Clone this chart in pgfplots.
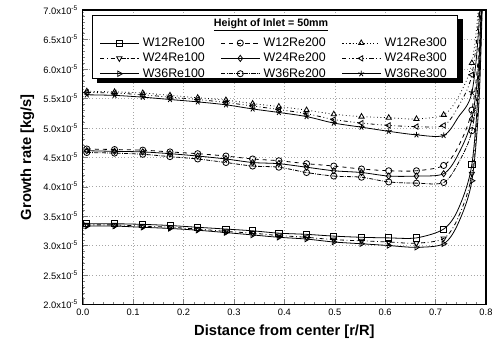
\documentclass[border=0pt]{standalone}
\usepackage{pgfplots}
\pgfplotsset{compat=1.18}
\usepackage{fontspec}
\setmainfont{Liberation Sans}
\usetikzlibrary{plotmarks}
\begin{document}
\begin{tikzpicture}
\begin{axis}[
  name=ax, scale only axis, width=302pt, height=220.5pt,
  xmin=0, xmax=0.8, ymin=2, ymax=7,
  xtick={0,0.1,0.2,0.3,0.4,0.5,0.6,0.7,0.8},
  ytick={2,2.5,3,3.5,4,4.5,5,5.5,6,6.5,7},
  minor x tick num=4, minor y tick num=4,
  xtick pos=left, ytick pos=left,
  tick align=inside,
  major tick length=4pt, minor tick length=2pt,
  axis line style={line width=0.9pt},
  grid=major, major grid style={gray!70, dotted},
  /pgf/number format/assume math mode=true,
  tick label style={font=\fontsize{7}{8}\selectfont},
  xticklabel={\pgfmathprintnumber[fixed,fixed zerofill,precision=1]{\tick}},
  yticklabel={\pgfmathprintnumber[fixed,fixed zerofill,precision=1]{\tick}x10\textsuperscript{-5}},
  xlabel={Distance from center [r/R]},
  ylabel={Growth rate [kg/s]},
  label style={font=\fontsize{11}{13}\selectfont\bfseries},
  every axis plot/.append style={black, line width=0.6pt, smooth, mark size=2.3pt,
     mark indices={1,2,3,4,5,6,7,8,9,10,11,12,13,14,16}},
  legend columns=3,
  legend cell align=left,
  legend image code/.code={\draw[mark indices={2}] plot coordinates {(0cm,0cm)(0.5cm,0cm)(1.0cm,0cm)};},
  legend style={at={(rel axis cs:0.032,0.925)}, anchor=north west, draw=none, fill=none,
     font=\fontsize{9.3}{10}\selectfont, row sep=-0.5pt,
     /tikz/every even column/.append style={column sep=10pt},
     /tikz/every odd column/.append style={column sep=1pt}},
]
\draw[fill=black] (rel axis cs:0.036,0.755) rectangle (rel axis cs:0.941,0.969);
\draw[fill=white, line width=0.7pt] (rel axis cs:0.025,0.769) rectangle (rel axis cs:0.930,0.983);
\node[font=\fontsize{8}{9}\selectfont\bfseries] at (rel axis cs:0.467,0.950) {\underline{Height of Inlet = 50mm}};

\addplot[solid, mark=square] coordinates {(0.008,3.37)(0.063,3.37)(0.119,3.36)(0.173,3.34)(0.228,3.31)(0.284,3.28)(0.337,3.25)(0.389,3.21)(0.444,3.19)(0.498,3.16)(0.553,3.14)(0.607,3.13)(0.662,3.13)(0.716,3.28)(0.745,3.62)(0.772,4.38)(0.787,6.0)(0.797,8.5)};
\addlegendentry{W12Re100}
\addplot[dashed, mark=o, mark options={solid}] coordinates {(0.008,4.64)(0.063,4.63)(0.119,4.62)(0.173,4.59)(0.228,4.56)(0.284,4.52)(0.337,4.47)(0.389,4.44)(0.444,4.39)(0.498,4.35)(0.553,4.30)(0.607,4.27)(0.662,4.27)(0.716,4.36)(0.745,4.68)(0.772,5.30)(0.787,6.5)(0.797,9.0)};
\addlegendentry{W12Re200}
\addplot[dotted, mark=triangle, mark options={solid}] coordinates {(0.008,5.62)(0.063,5.61)(0.119,5.59)(0.173,5.55)(0.228,5.51)(0.284,5.47)(0.337,5.41)(0.389,5.36)(0.444,5.30)(0.498,5.23)(0.553,5.19)(0.607,5.17)(0.662,5.15)(0.716,5.22)(0.745,5.52)(0.772,6.10)(0.787,7.3)(0.797,9.5)};
\addlegendentry{W12Re300}
\addplot[dash dot, mark=triangle, mark options={solid, rotate=180}] coordinates {(0.008,3.35)(0.063,3.35)(0.119,3.33)(0.173,3.31)(0.228,3.28)(0.284,3.24)(0.337,3.21)(0.389,3.17)(0.444,3.14)(0.498,3.10)(0.553,3.08)(0.607,3.06)(0.662,3.04)(0.716,3.12)(0.745,3.48)(0.772,4.22)(0.787,5.8)(0.797,8.5)};
\addlegendentry{W24Re100}
\addplot[solid, mark=diamond] coordinates {(0.008,4.61)(0.063,4.60)(0.119,4.59)(0.173,4.56)(0.228,4.52)(0.284,4.47)(0.337,4.41)(0.389,4.39)(0.444,4.33)(0.498,4.27)(0.553,4.24)(0.607,4.18)(0.662,4.18)(0.716,4.22)(0.745,4.55)(0.772,5.15)(0.787,6.3)(0.797,9.0)};
\addlegendentry{W24Re200}
\addplot[dash dot dot, mark=triangle, mark options={solid, rotate=90}] coordinates {(0.008,5.60)(0.063,5.59)(0.119,5.56)(0.173,5.52)(0.228,5.48)(0.284,5.43)(0.337,5.37)(0.389,5.31)(0.444,5.24)(0.498,5.14)(0.553,5.08)(0.607,5.04)(0.662,5.02)(0.716,5.04)(0.745,5.36)(0.772,5.90)(0.787,7.1)(0.797,9.5)};
\addlegendentry{W24Re300}
\addplot[solid, mark=triangle, mark options={rotate=-90}] coordinates {(0.008,3.33)(0.063,3.33)(0.119,3.31)(0.173,3.29)(0.228,3.26)(0.284,3.22)(0.337,3.18)(0.389,3.14)(0.444,3.11)(0.498,3.06)(0.553,3.03)(0.607,3.00)(0.662,2.97)(0.716,3.03)(0.745,3.38)(0.772,4.10)(0.787,5.6)(0.797,8.5)};
\addlegendentry{W36Re100}
\addplot[densely dash dot, mark=o, mark options={solid}] coordinates {(0.008,4.58)(0.063,4.57)(0.119,4.55)(0.173,4.51)(0.228,4.47)(0.284,4.41)(0.337,4.35)(0.389,4.33)(0.444,4.24)(0.498,4.18)(0.553,4.16)(0.607,4.08)(0.662,4.06)(0.716,4.07)(0.745,4.40)(0.772,4.95)(0.787,6.1)(0.797,9.0)};
\addlegendentry{W36Re200}
\addplot[solid, mark=star, mark options={fill=black}] coordinates {(0.008,5.56)(0.063,5.55)(0.119,5.52)(0.173,5.48)(0.228,5.44)(0.284,5.39)(0.337,5.32)(0.389,5.26)(0.444,5.19)(0.498,5.08)(0.553,5.01)(0.607,4.94)(0.662,4.88)(0.716,4.87)(0.745,5.18)(0.772,5.60)(0.787,6.9)(0.797,9.5)};
\addlegendentry{W36Re300}
\end{axis}
\pgfresetboundingbox
\path (ax.south west) ++(-62pt,-33.75pt) coordinate (bl);
\path (ax.north east) ++(7.5pt,7.5pt) coordinate (tr);
\path[use as bounding box] (bl) rectangle (tr);
\end{tikzpicture}
\end{document}
